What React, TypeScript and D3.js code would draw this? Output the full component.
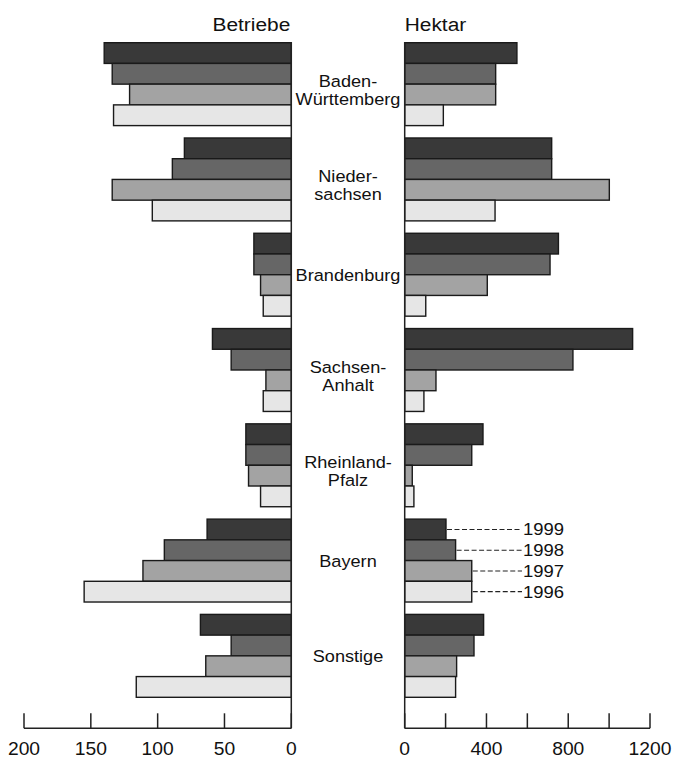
import React from "react";
import * as d3 from "d3";

const regions = [
  ["Baden-", "Württemberg"],
  ["Nieder-", "sachsen"],
  ["Brandenburg"],
  ["Sachsen-", "Anhalt"],
  ["Rheinland-", "Pfalz"],
  ["Bayern"],
  ["Sonstige"],
];
const years = ["1999", "1998", "1997", "1996"];
// Betriebe per region, order 1999, 1998, 1997, 1996
const betriebe = [
  [140, 134, 121, 133],
  [80, 89, 134, 104],
  [28, 28, 23, 21],
  [59, 45, 19, 21],
  [34, 34, 32, 23],
  [63, 95, 111, 155],
  [68, 45, 64, 116],
];
// Hektar per region, order 1999, 1998, 1997, 1996
const hektar = [
  [549, 445, 445, 189],
  [719, 719, 1001, 442],
  [752, 711, 404, 103],
  [1115, 823, 153, 94],
  [383, 328, 37, 45],
  [202, 249, 328, 328],
  [386, 339, 254, 249],
];
const leftTicks = [200, 150, 100, 50, 0];
const rightTicks = [0, 200, 400, 600, 800, 1000, 1200];
const rightTickLabels = [0, 400, 800, 1200];
const colors = ["#393939", "#666666", "#a3a3a3", "#e6e6e6"];
const legendRegion = 5;

const FONT = "'Liberation Sans', Arial, Helvetica, sans-serif";
const SX = 1.1;

function T({ x, y, size, anchor = "start", children }: any) {
  return (
    <text
      transform={`translate(${x},${y}) scale(${SX},1)`}
      fontSize={size}
      fontFamily={FONT}
      textAnchor={anchor}
      fill="#111"
    >
      {children}
    </text>
  );
}

export default function App() {
  const W = 675, H = 759;
  const xL = d3.scaleLinear().domain([0, 200]).range([291.3, 24]);
  const xR = d3.scaleLinear().domain([0, 1200]).range([404.7, 650]);
  const yG = d3
    .scaleBand<number>()
    .domain(d3.range(regions.length))
    .range([42.7, 697.3])
    .paddingInner(0.13)
    .paddingOuter(0);
  const yB = d3.scaleBand<number>().domain(d3.range(years.length)).range([0, yG.bandwidth()]);
  const axisY = 728.3;
  const tickTop = 713.3;
  const midX = (xL(0) + xR(0)) / 2;

  return (
    <svg width={W} height={H} style={{ position: "absolute", left: 0, top: 0, background: "#fff" }}>
      <rect width={W} height={H} fill="#fff" />
      <T x={xL(0) - 1} y={31} size={19} anchor="end">Betriebe</T>
      <T x={xR(0)} y={31} size={19}>Hektar</T>

      {regions.map((r, i) => {
        const g0 = yG(i)!;
        return (
          <g key={i}>
            {years.map((yr, j) => {
              const y = g0 + yB(j)!;
              const h = yB.bandwidth();
              const vb = betriebe[i][j];
              const vh = hektar[i][j];
              return (
                <g key={yr}>
                  <rect x={xL(vb)} y={y} width={xL(0) - xL(vb)} height={h} fill={colors[j]} stroke="#1a1a1a" strokeWidth={1.4} />
                  <rect x={xR(0)} y={y} width={xR(vh) - xR(0)} height={h} fill={colors[j]} stroke="#1a1a1a" strokeWidth={1.4} />
                </g>
              );
            })}
            {r.length === 1 ? (
              <T x={midX} y={g0 + yG.bandwidth() / 2 + 6} size={16.5} anchor="middle">{r[0]}</T>
            ) : (
              <>
                <T x={midX} y={g0 + yG.bandwidth() / 2 + 2.5} size={16.5} anchor="middle">{r[0]}</T>
                <T x={midX} y={g0 + yG.bandwidth() / 2 + 20.5} size={16.5} anchor="middle">{r[1]}</T>
              </>
            )}
          </g>
        );
      })}

      {/* legend on Bayern */}
      {years.map((yr, j) => {
        const cy = yG(legendRegion)! + yB(j)! + yB.bandwidth() / 2;
        return (
          <g key={yr}>
            <line x1={xR(hektar[legendRegion][j]) + 1} x2={522} y1={cy} y2={cy} stroke="#222" strokeWidth={1.1} strokeDasharray="5,2.5" />
            <T x={523} y={cy + 6} size={16.8}>{yr}</T>
          </g>
        );
      })}

      {/* vertical axis lines */}
      <line x1={xL(0)} x2={xL(0)} y1={42} y2={axisY} stroke="#222" strokeWidth={1.5} />
      <line x1={xR(0)} x2={xR(0)} y1={42} y2={axisY} stroke="#222" strokeWidth={1.5} />

      {/* bottom axes */}
      <line x1={xL(200)} x2={xL(0)} y1={axisY} y2={axisY} stroke="#222" strokeWidth={1.5} />
      {leftTicks.map((t) => (
        <g key={t}>
          <line x1={xL(t)} x2={xL(t)} y1={tickTop} y2={axisY} stroke="#222" strokeWidth={1.5} />
          <T x={xL(t)} y={755} size={17.5} anchor="middle">{t}</T>
        </g>
      ))}
      <line x1={xR(0)} x2={xR(1200)} y1={axisY} y2={axisY} stroke="#222" strokeWidth={1.5} />
      {rightTicks.map((t) => (
        <line key={t} x1={xR(t)} x2={xR(t)} y1={tickTop} y2={axisY} stroke="#222" strokeWidth={1.5} />
      ))}
      {rightTickLabels.map((t) => (
        <T key={t} x={xR(t)} y={755} size={17.5} anchor="middle">{t}</T>
      ))}
    </svg>
  );
}
